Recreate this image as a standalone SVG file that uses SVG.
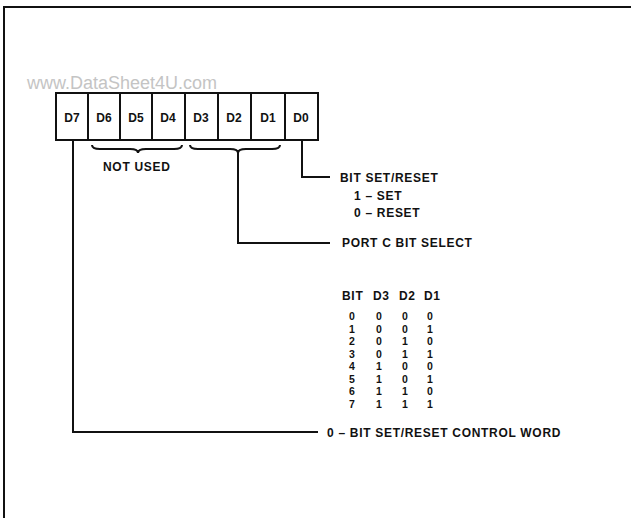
<svg xmlns="http://www.w3.org/2000/svg" width="631" height="518" viewBox="0 0 631 518">
<style>
.t{font-family:"Liberation Sans",Arial,sans-serif;font-weight:bold;font-size:12px;fill:#111;letter-spacing:0.7px}
.b{font-family:"Liberation Sans",Arial,sans-serif;font-weight:bold;font-size:12px;fill:#111;text-anchor:middle}
.d{font-family:"Liberation Sans",Arial,sans-serif;font-weight:bold;font-size:10.5px;fill:#111;text-anchor:middle}
.ln{fill:none;stroke:#111;stroke-width:2}
.box{fill:#fff;stroke:#111;stroke-width:2}
</style>
<rect width="631" height="518" fill="#fff"/>
<g id="frame"><path class="ln" d="M4,518 V7 H631"/></g>
<text x="27" y="89" font-family="'Liberation Sans',Arial,sans-serif" font-size="18" fill="#c4c4c4">www.DataSheet4U.com</text>
<g id="register">
<rect class="box" x="56" y="93" width="262" height="47"/>
<path class="ln" d="M88,93V140M120,93V140M152,93V140M185,93V140M218,93V140M251,93V140M285,93V140"/>
<text class="b" x="72" y="122">D7</text>
<text class="b" x="104" y="122">D6</text>
<text class="b" x="136" y="122">D5</text>
<text class="b" x="168" y="122">D4</text>
<text class="b" x="201" y="122">D3</text>
<text class="b" x="234" y="122">D2</text>
<text class="b" x="268" y="122">D1</text>
<text class="b" x="301" y="122">D0</text>
</g>
<g id="not-used">
<path class="ln" d="M92,145q0,4 8,4h30q8,0 8,4q0,-4 8,-4h28q8,0 8,-4"/>
<text class="t" x="103" y="171">NOT USED</text>
</g>
<g id="bit-set-reset">
<text class="t" x="340" y="182">BIT SET/RESET</text>
<text class="t" x="354" y="200">1 – SET</text>
<text class="t" x="354" y="217">0 – RESET</text>
</g>
<g id="port-c-select">
<path class="ln" d="M190,145q0,4 8,4h32q8,0 8,4q0,-4 8,-4h26q8,0 8,-4"/>
<text class="t" x="342" y="247">PORT C BIT SELECT</text>
<text class="t" x="342" y="300">BIT</text>
<text class="t" x="373" y="300">D3</text>
<text class="t" x="399" y="300">D2</text>
<text class="t" x="424" y="300">D1</text>
<g class="d">
<text x="352" y="320">0</text><text x="379" y="320">0</text><text x="405" y="320">0</text><text x="430" y="320">0</text>
<text x="352" y="332.5">1</text><text x="379" y="332.5">0</text><text x="405" y="332.5">0</text><text x="430" y="332.5">1</text>
<text x="352" y="345">2</text><text x="379" y="345">0</text><text x="405" y="345">1</text><text x="430" y="345">0</text>
<text x="352" y="357.5">3</text><text x="379" y="357.5">0</text><text x="405" y="357.5">1</text><text x="430" y="357.5">1</text>
<text x="352" y="370">4</text><text x="379" y="370">1</text><text x="405" y="370">0</text><text x="430" y="370">0</text>
<text x="352" y="382.5">5</text><text x="379" y="382.5">1</text><text x="405" y="382.5">0</text><text x="430" y="382.5">1</text>
<text x="352" y="395">6</text><text x="379" y="395">1</text><text x="405" y="395">1</text><text x="430" y="395">0</text>
<text x="352" y="407.5">7</text><text x="379" y="407.5">1</text><text x="405" y="407.5">1</text><text x="430" y="407.5">1</text>
</g>
</g>
<g id="control-word">
<text class="t" x="327" y="437">0 – BIT SET/RESET CONTROL WORD</text>
</g>
<g id="connectors">
<path class="ln" d="M302,140V177H330"/>
<path class="ln" d="M238,153V243H330"/>
<path class="ln" d="M73,140V432H318"/>
</g>
</svg>
